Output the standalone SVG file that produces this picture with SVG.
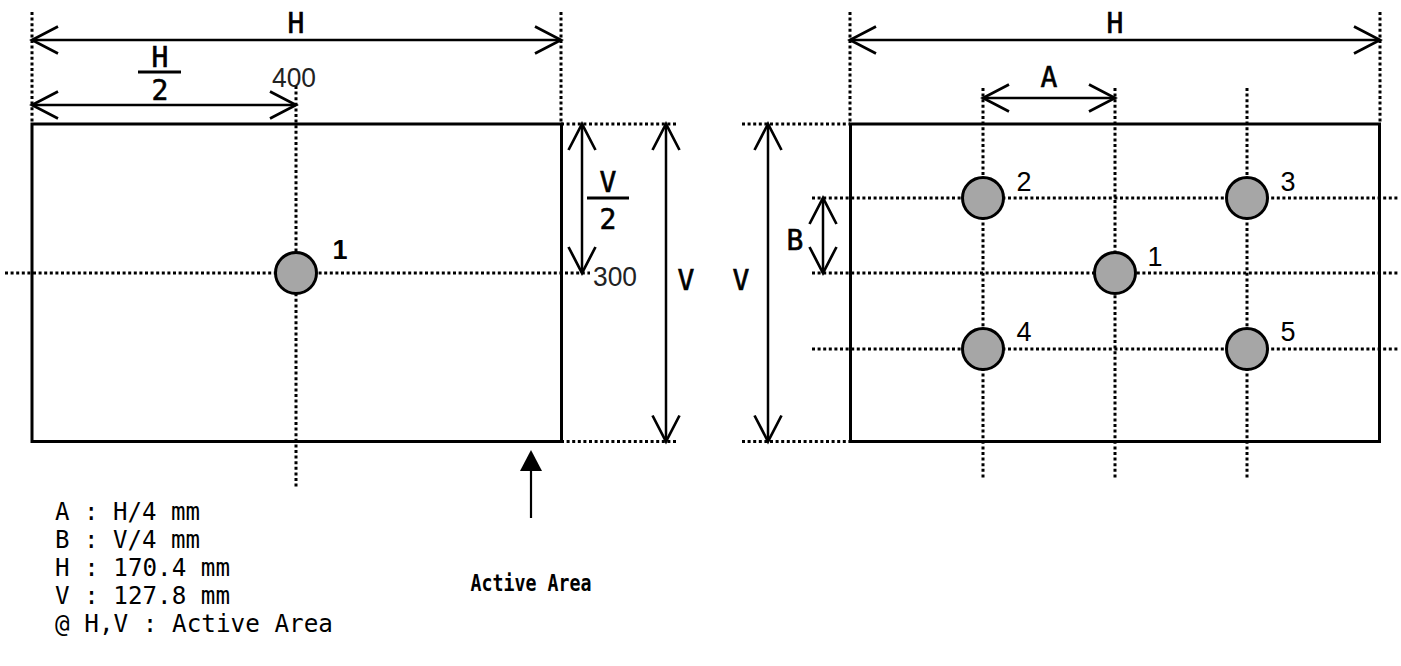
<svg xmlns="http://www.w3.org/2000/svg" width="1401" height="666" viewBox="0 0 1401 666">
<style>
.box{fill:none;stroke:#000;stroke-width:3}
.dot{fill:none;stroke:#000;stroke-width:3;stroke-dasharray:3 2.6}
.dim{fill:none;stroke:#000;stroke-width:2.5;marker-start:url(#oa);marker-end:url(#oa)}
.pt{fill:#a6a6a6;stroke:#000;stroke-width:3}
.lbl{font-family:"DejaVu Sans Mono","Liberation Mono",monospace;font-size:28px;fill:#000;stroke:#000;stroke-width:0.6}
.aa{font-family:"DejaVu Sans Mono","Liberation Mono",monospace;font-size:23px;font-weight:bold;fill:#000}
.num{font-family:"Liberation Sans",Arial,sans-serif;font-size:27px;fill:#000}
.thin{font-family:"Liberation Sans",Arial,sans-serif;font-size:28px;fill:#222}
.leg{font-family:"DejaVu Sans Mono","Liberation Mono",monospace;font-size:25px;fill:#000}
</style>
<defs>
<marker id="oa" viewBox="-28 -16 32 32" refX="0" refY="0" markerWidth="32" markerHeight="32" markerUnits="userSpaceOnUse" orient="auto-start-reverse">
<path d="M -26 -13.5 L 0 0 L -26 13.5" fill="none" stroke="#000" stroke-width="2.7"/>
</marker>
</defs>
<rect width="1401" height="666" fill="#fff"/>

<g id="left-panel">
<rect class="box" x="32" y="124" width="529.5" height="317.5"/>
</g>

<g id="connectors">
<line class="dot" x1="32" y1="12" x2="32" y2="124"/>
<line class="dot" x1="561" y1="12" x2="561" y2="124"/>
<line class="dot" x1="296" y1="86" x2="296" y2="488"/>
<line class="dot" x1="5" y1="273" x2="590" y2="273"/>
<line class="dot" x1="561" y1="124" x2="676" y2="124"/>
<line class="dot" x1="561" y1="441.5" x2="676" y2="441.5"/>
<line class="dim" x1="32" y1="40" x2="561" y2="40"/>
<line class="dim" x1="32" y1="105" x2="296" y2="105"/>
<line class="dim" x1="582" y1="124" x2="582" y2="273"/>
<line class="dim" x1="666" y1="124" x2="666" y2="441.5"/>
<line x1="531" y1="470" x2="531" y2="518" stroke="#000" stroke-width="2.2"/>
<polygon points="531,450 520,471 542,471" fill="#000"/>

<line class="dot" x1="850" y1="12" x2="850" y2="124"/>
<line class="dot" x1="1380" y1="12" x2="1380" y2="124"/>
<line class="dot" x1="983" y1="88" x2="983" y2="478"/>
<line class="dot" x1="1115" y1="88" x2="1115" y2="478"/>
<line class="dot" x1="1247" y1="88" x2="1247" y2="478"/>
<line class="dot" x1="742" y1="124" x2="850" y2="124"/>
<line class="dot" x1="742" y1="441.5" x2="850" y2="441.5"/>
<line class="dot" x1="812" y1="198" x2="1398" y2="198"/>
<line class="dot" x1="812" y1="273" x2="1398" y2="273"/>
<line class="dot" x1="812" y1="349" x2="1398" y2="349"/>
<line class="dim" x1="850" y1="40" x2="1380" y2="40"/>
<line class="dim" x1="983" y1="98" x2="1115" y2="98"/>
<line class="dim" x1="768" y1="124" x2="768" y2="441.5"/>
<line class="dim" x1="823" y1="198" x2="823" y2="273"/>
</g>

<g id="right-panel">
<rect class="box" x="850.5" y="124" width="529" height="317.5"/>
</g>

<g id="left-labels">
<text class="lbl" x="296" y="33" text-anchor="middle">H</text>
<text class="lbl" x="160" y="67" text-anchor="middle">H</text>
<line x1="138" y1="72" x2="181" y2="72" stroke="#000" stroke-width="2.8"/>
<text class="lbl" x="160" y="100" text-anchor="middle">2</text>
<text class="thin" x="272" y="87" textLength="44" lengthAdjust="spacingAndGlyphs">400</text>
<text class="lbl" x="608" y="192" text-anchor="middle">V</text>
<line x1="587" y1="198" x2="629" y2="198" stroke="#000" stroke-width="2.8"/>
<text class="lbl" x="608" y="229" text-anchor="middle">2</text>
<text class="thin" x="593" y="286" textLength="44" lengthAdjust="spacingAndGlyphs">300</text>
<text class="lbl" x="686" y="290" text-anchor="middle">V</text>
<text class="lbl" x="741" y="290" text-anchor="middle">V</text>
<text class="aa" x="531" y="591" text-anchor="middle" textLength="121" lengthAdjust="spacingAndGlyphs">Active Area</text>
</g>

<g id="left-point-1">
<circle class="pt" cx="296" cy="273" r="20.5"/>
<text class="num" x="340" y="259" text-anchor="middle" font-weight="bold">1</text>
</g>

<g id="right-labels">
<text class="lbl" x="1115" y="33" text-anchor="middle">H</text>
<text class="lbl" x="1049" y="87" text-anchor="middle">A</text>
<text class="lbl" x="795" y="250" text-anchor="middle">B</text>
</g>

<g id="point-1"><circle class="pt" cx="1115" cy="273" r="20.5"/><text class="num" x="1155" y="266" text-anchor="middle">1</text></g>
<g id="point-2"><circle class="pt" cx="983" cy="198" r="20.5"/><text class="num" x="1024" y="191" text-anchor="middle">2</text></g>
<g id="point-3"><circle class="pt" cx="1247" cy="198" r="20.5"/><text class="num" x="1288" y="191" text-anchor="middle">3</text></g>
<g id="point-4"><circle class="pt" cx="983" cy="349" r="20.5"/><text class="num" x="1024" y="341" text-anchor="middle">4</text></g>
<g id="point-5"><circle class="pt" cx="1247" cy="349" r="20.5"/><text class="num" x="1288" y="341" text-anchor="middle">5</text></g>

<g id="legend">
<text class="leg" x="55" y="520" textLength="145" lengthAdjust="spacingAndGlyphs">A : H/4 mm</text>
<text class="leg" x="55" y="548" textLength="145" lengthAdjust="spacingAndGlyphs">B : V/4 mm</text>
<text class="leg" x="55" y="576" textLength="175" lengthAdjust="spacingAndGlyphs">H : 170.4 mm</text>
<text class="leg" x="55" y="604" textLength="175" lengthAdjust="spacingAndGlyphs">V : 127.8 mm</text>
<text class="leg" x="55" y="632" textLength="278" lengthAdjust="spacingAndGlyphs">@ H,V : Active Area</text>
</g>
</svg>
